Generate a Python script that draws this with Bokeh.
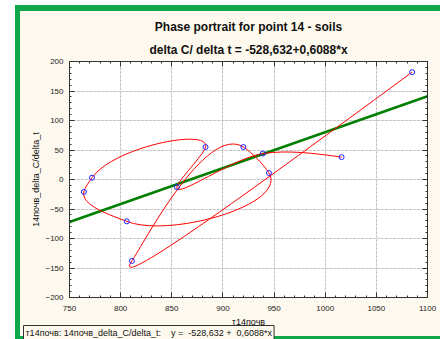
import numpy as np
from bokeh.plotting import figure
from bokeh.models import LinearAxis, SingleIntervalTicker, Grid, Title
from bokeh.embed import file_html
from bokeh.resources import INLINE

# ---- data (time order) ----
conc = [1085, 811, 920, 945, 806, 764, 772, 883, 855, 939, 1016]      # 14почв (C)
delta = [182, -138, 55, 11, -71, -21, 3, 55, -13, 44, 38]             # delta C / delta t
intercept = -528.632
slope = 0.6088
x_ticks_interval = 50
y_ticks_interval = 50

title1 = "Phase portrait for point 14 - soils"
title2 = "delta C/ delta t = -528,632+0,6088*x"
x_label = "т14почв"
y_label = "14почв_delta_C/delta_t"
legend_text = "т14почв: 14почв_delta_C/delta_t:\u00a0\u00a0\u00a0 y =\u00a0 -528,632 +\u00a0 0,6088*x"

X0, X1 = 750, 1100
Y0, Y1 = -200, 200

FONT = "Liberation Sans"
CREAM = "#FEF9EE"
GREEN_FRAME = "#10A84B"

W, H = 440, 339
ML, MR, MT, MB = 69, 13, 61, 42

p = figure(width=W, height=H, x_range=(X0, X1), y_range=(Y0, Y1),
           output_backend="svg", toolbar_location=None,
           min_border_left=ML, min_border_right=MR, min_border_top=MT, min_border_bottom=MB,
           background_fill_color="white", border_fill_color=None,
           outline_line_color="#333333", x_axis_location=None, y_axis_location=None)
p.styles = {
    "background-color": "white",
    "background-image": f"linear-gradient({CREAM},{CREAM}), linear-gradient({GREEN_FRAME},{GREEN_FRAME})",
    "background-position": "20px 11px, 15px 5px",
    "background-size": "calc(100% - 20px) calc(100% - 14px), calc(100% - 15px) calc(100% - 5px)",
    "background-repeat": "no-repeat",
}

def make_axis(show_labels, interval):
    ax = LinearAxis(ticker=SingleIntervalTicker(interval=interval, num_minor_ticks=5))
    ax.axis_line_color = "#333333"
    ax.major_tick_in = 5
    ax.major_tick_out = 0
    ax.minor_tick_in = 2
    ax.minor_tick_out = 0
    ax.major_tick_line_color = "#333333"
    ax.minor_tick_line_color = "#333333"
    ax.major_label_text_font = FONT
    ax.major_label_text_font_size = "8px"
    ax.major_label_text_color = "#222222"
    ax.major_label_standoff = 6
    ax.axis_label_text_font = FONT
    ax.axis_label_text_font_size = "9px"
    ax.axis_label_text_font_style = "normal"
    ax.axis_label_text_color = "#111111"
    if not show_labels:
        ax.major_label_text_alpha = 0
        ax.major_label_text_font_size = "1px"
        ax.major_label_standoff = 0
    return ax

xb = make_axis(True, x_ticks_interval)
xb.axis_label = x_label
xb.major_label_standoff = 8
xb.axis_label_standoff = 3
yl = make_axis(True, y_ticks_interval)
yl.axis_label = y_label
yl.axis_label_standoff = 1
xt = make_axis(False, x_ticks_interval)
yr = make_axis(False, y_ticks_interval)
p.add_layout(xb, "below")
p.add_layout(yl, "left")
p.add_layout(xt, "above")
p.add_layout(yr, "right")

p.add_layout(Grid(dimension=0, ticker=xb.ticker, grid_line_color="#BBBBBB", grid_line_dash="2 2", grid_line_width=1))
p.add_layout(Grid(dimension=1, ticker=yl.ticker, grid_line_color="#BBBBBB", grid_line_dash="2 2", grid_line_width=1))

# regression line
lx = np.array([X0, X1], dtype=float)
p.line(lx, intercept + slope * lx, line_color="#008000", line_width=2.6)

# parametric cubic spline (chord-length, Bessel tangents) through the points, drawn as Bezier segments
P = np.column_stack([conc, delta]).astype(float)
sx = 358.0 / (X1 - X0)
sy = 236.0 / (Y1 - Y0)
S = P * np.array([sx, sy])
h = np.hypot(*np.diff(S, axis=0).T)
sec = (P[1:] - P[:-1]) / h[:, None]
n = len(P)
m = np.zeros_like(P)
for i in range(1, n - 1):
    m[i] = (h[i] * sec[i - 1] + h[i - 1] * sec[i]) / (h[i - 1] + h[i])
m[0] = (3 * sec[0] - m[1]) / 2
m[-1] = (3 * sec[-1] - m[-2]) / 2
hh = h[:, None]
c0 = P[:-1] + m[:-1] * hh / 3
c1 = P[1:] - m[1:] * hh / 3
p.bezier(x0=P[:-1, 0], y0=P[:-1, 1], x1=P[1:, 0], y1=P[1:, 1],
         cx0=c0[:, 0], cy0=c0[:, 1], cx1=c1[:, 0], cy1=c1[:, 1],
         line_color="#FF0000", line_width=1)

p.scatter(conc, delta, marker="circle", size=5, line_color="#2020FF", fill_color=None, line_width=1)

# titles above (first added is nearest to the frame)
p.add_layout(Title(text=title2, align="center", offset=-31, standoff=9.5,
                   text_font=FONT, text_font_size="12px", text_font_style="bold",
                   text_color="#111111"), "above")
p.add_layout(Title(text=title1, align="center", offset=-27, standoff=3,
                   text_font=FONT, text_font_size="12px", text_font_style="bold",
                   text_color="#111111"), "above")
# legend box below
p.add_layout(Title(text=legend_text, align="left", offset=-46, standoff=-12,
                   text_font=FONT, text_font_size="9px", text_font_style="normal",
                   text_color="#111111", background_fill_color=CREAM,
                   border_line_color="#333333", border_line_width=1, padding=2), "below")

open("out.html", "w").write(file_html(p, INLINE))
